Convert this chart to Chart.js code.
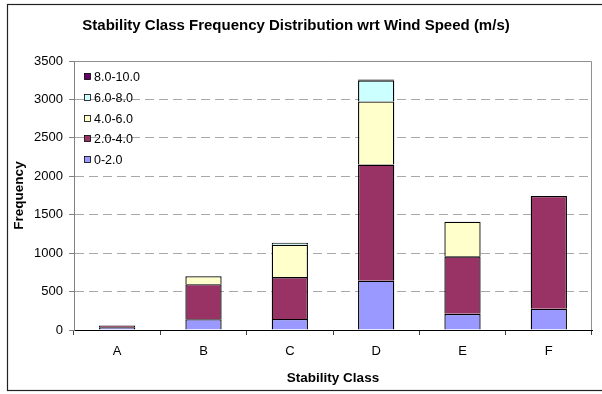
<!DOCTYPE html>
<html>
<head>
<meta charset="utf-8">
<script src="https://cdn.jsdelivr.net/npm/chart.js@4/dist/chart.umd.min.js"></script>
<style>
  html, body { margin: 0; padding: 0; background: #fff; }
  canvas { display: block; }
</style>
</head>
<body>
<canvas id="c" width="602" height="394"></canvas>
<script>
const categories = ['A', 'B', 'C', 'D', 'E', 'F'];
const speed0to2 = [35, 140, 143, 640, 210, 278];
const speed2to4 = [25, 455, 545, 1512, 748, 1466];
const speed4to6 = [null, 105, 422, 822, 452, null];
const speed6to8 = [null, null, 25, 274, null, null];
const speed8to10 = [null, null, null, 12, null, null];
const seriesLabels = ['0-2.0', '2.0-4.0', '4.0-6.0', '6.0-8.0', '8.0-10.0'];
const seriesColors = ['#9999FF', '#993366', '#FFFFCC', '#CCFFFF', '#660066'];
const yTicks = [0, 500, 1000, 1500, 2000, 2500, 3000, 3500];
const titleText = 'Stability Class Frequency Distribution wrt Wind Speed (m/s)';
const xTitle = 'Stability Class';
const yTitle = 'Frequency';

const FONT = 'Liberation Sans, Arial, sans-serif';
const seriesData = [speed0to2, speed2to4, speed4to6, speed6to8, speed8to10];

const datasets = seriesData.map((d, i) => ({
  label: seriesLabels[i],
  data: d,
  backgroundColor: seriesColors[i],
  borderColor: '#000000',
  borderWidth: 1.3,
  borderSkipped: 'start',
  barPercentage: 0.42,
  categoryPercentage: 1.0
}));

const framePlugin = {
  id: 'frame',
  beforeDraw(chart) {
    const ctx = chart.ctx;
    ctx.save();
    ctx.fillStyle = '#ffffff';
    ctx.fillRect(0, 0, chart.width, chart.height);
    ctx.strokeStyle = '#222222';
    ctx.lineWidth = 1.2;
    ctx.strokeRect(7.5, 4.5, 610, 386);
    ctx.restore();
  },
  afterDatasetsDraw(chart) {
    const ctx = chart.ctx;
    const a = chart.chartArea;
    ctx.save();
    ctx.strokeStyle = '#909090';
    ctx.lineWidth = 1;
    ctx.beginPath();
    ctx.moveTo(a.left, a.top + 0.5);
    ctx.lineTo(a.right - 0.5, a.top + 0.5);
    ctx.lineTo(a.right - 0.5, a.bottom);
    ctx.stroke();
    ctx.font = '12.5px ' + FONT;
    ctx.textBaseline = 'middle';
    ctx.textAlign = 'left';
    const n = chart.data.datasets.length;
    for (let k = 0; k < n; k++) {
      const ds = chart.data.datasets[n - 1 - k];
      const cy = a.top + 16 + k * 20.8;
      const bx = a.left + 10.5;
      ctx.fillStyle = ds.backgroundColor;
      ctx.fillRect(bx, Math.round(cy) - 3.5, 6, 6);
      ctx.strokeStyle = '#000';
      ctx.lineWidth = 0.8;
      ctx.strokeRect(bx, Math.round(cy) - 3.5, 6, 6);
      ctx.fillStyle = '#000';
      ctx.fillText(ds.label, a.left + 20, cy + 0.5);
    }
    ctx.restore();
  }
};

new Chart(document.getElementById('c'), {
  type: 'bar',
  data: { labels: categories, datasets: datasets },
  options: {
    responsive: false,
    animation: false,
    devicePixelRatio: 1,
    layout: { padding: { top: 0, right: 10, left: 0, bottom: 0 } },
    plugins: {
      legend: { display: false },
      tooltip: { enabled: false },
      title: {
        display: true,
        text: titleText,
        color: '#000',
        font: { family: FONT, size: 15, weight: 'bold' },
        padding: { top: 17, bottom: 26 }
      }
    },
    scales: {
      x: {
        stacked: true,
        grid: {
          display: true,
          drawOnChartArea: false,
          drawTicks: true,
          tickLength: 5,
          tickColor: '#404040',
          offset: true
        },
        border: { display: true, color: '#000000', width: 1 },
        ticks: { color: '#000', font: { family: FONT, size: 13 }, padding: 9 },
        title: {
          display: true,
          text: xTitle,
          color: '#000',
          font: { family: FONT, size: 13.5, weight: 'bold' },
          padding: { top: 0, bottom: 8 }
        },
        afterFit(scale) { scale.height = 64; }
      },
      y: {
        stacked: true,
        min: 0,
        max: 3500,
        afterBuildTicks(scale) { scale.ticks = yTicks.map(v => ({ value: v })); },
        grid: {
          color: '#a8a8a8',
          lineWidth: 1,
          drawTicks: true,
          tickLength: 5,
          tickColor: '#808080',
          tickBorderDash: []
        },
        border: { display: true, color: '#808080', width: 1, dash: [9, 5] },
        ticks: {
          color: '#000',
          font: { family: FONT, size: 13 },
          padding: 6,
          callback: (v) => String(v)
        },
        title: {
          display: true,
          text: yTitle,
          color: '#000',
          font: { family: FONT, size: 13.5, weight: 'bold' },
          padding: { top: 11, bottom: 0 }
        },
        afterFit(scale) { scale.width = 74; }
      }
    }
  },
  plugins: [framePlugin]
});
</script>
</body>
</html>
